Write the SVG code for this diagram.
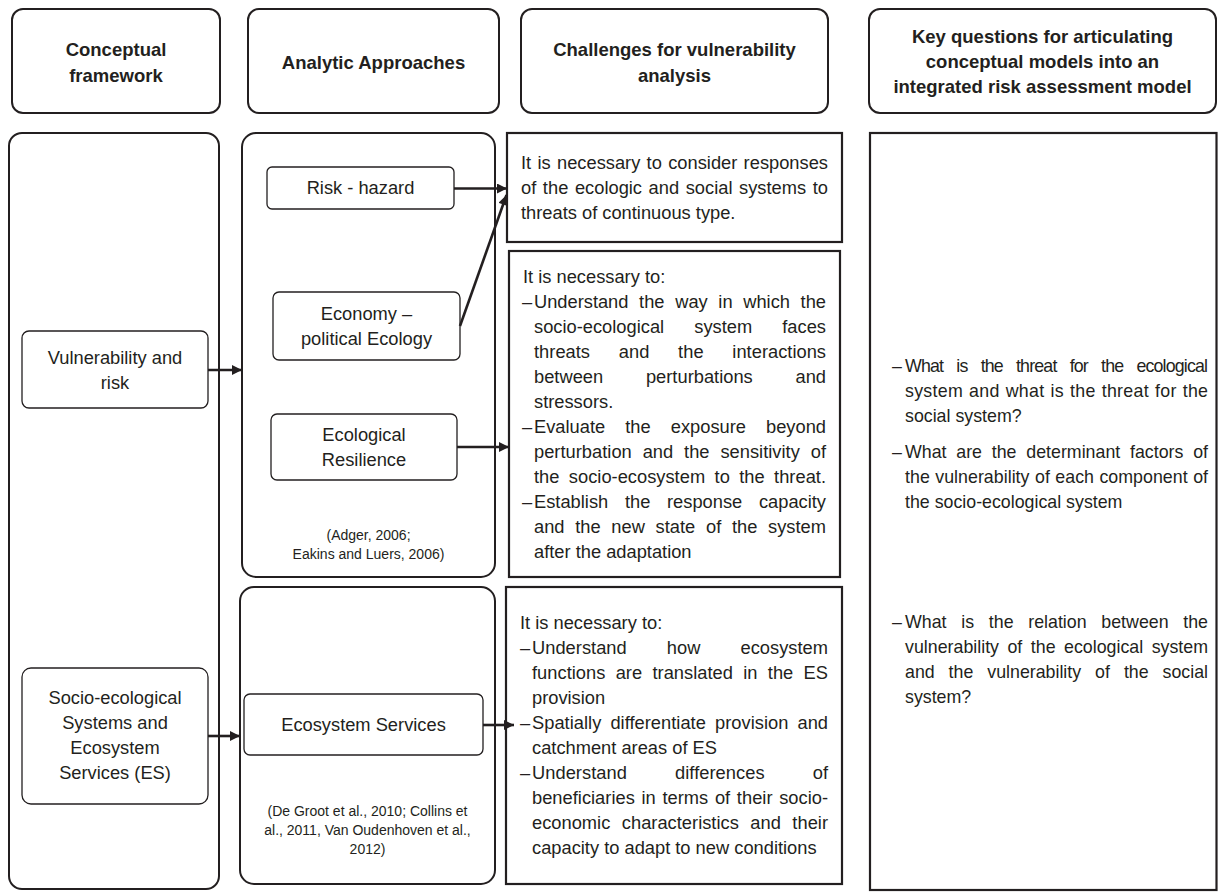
<svg xmlns="http://www.w3.org/2000/svg" width="1219" height="894" viewBox="0 0 1219 894">
<defs>
<style>
.hdr{fill:#fff;stroke:#231f20;stroke-width:2}
.big{fill:#fff;stroke:#231f20;stroke-width:2}
.lbl{fill:#fff;stroke:#231f20;stroke-width:1.3}
.tbox{fill:#fff;stroke:#231f20;stroke-width:2.2}
.h{font-family:"Liberation Sans",Arial,sans-serif;font-weight:bold;font-size:18.5px;fill:#231f20;text-anchor:middle}
.l{font-family:"Liberation Sans",Arial,sans-serif;font-size:18.3px;fill:#231f20;text-anchor:middle}
.c{font-family:"Liberation Sans",Arial,sans-serif;font-size:14px;fill:#231f20;text-anchor:middle}
.t{font-family:"Liberation Sans",Arial,sans-serif;font-size:18.3px;fill:#231f20}
.k{font-family:"Liberation Sans",Arial,sans-serif;font-size:17.8px;fill:#231f20}
.conn{fill:none;stroke:#231f20;stroke-width:2.6;marker-end:url(#ah)}
</style>
<marker id="ah" viewBox="0 0 10 10" refX="10" refY="5" markerWidth="11" markerHeight="10" markerUnits="userSpaceOnUse" orient="auto">
<path d="M0,0 L10,5 L0,10 z" fill="#231f20"/>
</marker>
</defs>
<rect width="1219" height="894" fill="#fff"/>

<g id="header-conceptual"><rect class="hdr" x="12" y="9" width="208" height="104" rx="11"/><text class="h" x="116" y="56">Conceptual</text><text class="h" x="116" y="82">framework</text></g>
<g id="header-analytic"><rect class="hdr" x="248" y="9" width="251" height="104" rx="11"/><text class="h" x="373.5" y="69">Analytic Approaches</text></g>
<g id="header-challenges"><rect class="hdr" x="521" y="9" width="307" height="104" rx="11"/><text class="h" x="674.5" y="56">Challenges for vulnerability</text><text class="h" x="674.5" y="82">analysis</text></g>
<g id="header-key"><rect class="hdr" x="869" y="9" width="347" height="104" rx="11"/><text class="h" x="1042.5" y="43">Key questions for articulating</text><text class="h" x="1042.5" y="68">conceptual models into an</text><text class="h" x="1042.5" y="93">integrated risk assessment model</text></g>

<g id="conceptual-column"><rect class="big" x="9" y="133" width="210" height="756" rx="13"/></g>
<g id="vulnerability-risk"><rect class="lbl" x="22" y="331" width="186" height="77" rx="7"/><text class="l" x="115" y="364">Vulnerability and</text><text class="l" x="115" y="389">risk</text></g>
<g id="socio-ecological"><rect class="lbl" x="22" y="668" width="186" height="136" rx="9"/><text class="l" x="115" y="704">Socio-ecological</text><text class="l" x="115" y="729">Systems and</text><text class="l" x="115" y="754">Ecosystem</text><text class="l" x="115" y="779">Services (ES)</text></g>

<g id="analytic-vulnerability"><rect class="big" x="242" y="133" width="253" height="444" rx="14"/>
<text class="c" x="368.5" y="540">(Adger, 2006;</text><text class="c" x="368.5" y="559">Eakins and Luers, 2006)</text></g>
<g id="risk-hazard"><rect class="lbl" x="267" y="167" width="187" height="42" rx="5"/><text class="l" x="360.5" y="194">Risk - hazard</text></g>
<g id="economy-political-ecology"><rect class="lbl" x="273" y="292" width="187" height="68" rx="6"/><text class="l" x="366.5" y="320">Economy –</text><text class="l" x="366.5" y="345">political Ecology</text></g>
<g id="ecological-resilience"><rect class="lbl" x="271" y="414" width="186" height="66" rx="6"/><text class="l" x="364" y="441">Ecological</text><text class="l" x="364" y="466">Resilience</text></g>

<g id="analytic-es"><rect class="big" x="240" y="587" width="255" height="297" rx="14"/>
<text class="c" x="367.5" y="816">(De Groot et al., 2010; Collins et</text><text class="c" x="367.5" y="835">al., 2011, Van Oudenhoven et al.,</text><text class="c" x="367.5" y="854">2012)</text></g>
<g id="ecosystem-services"><rect class="lbl" x="244" y="694" width="239" height="61" rx="6"/><text class="l" x="363.5" y="731">Ecosystem Services</text></g>

<g id="challenge-1"><rect class="tbox" x="507" y="133" width="335" height="109"/>
<text class="t" x="521" y="169" word-spacing="1.2" textLength="307" lengthAdjust="spacing">It is necessary to consider responses</text>
<text class="t" x="521" y="194" word-spacing="1.5" textLength="307" lengthAdjust="spacing">of the ecologic and social systems to</text>
<text class="t" x="521" y="219">threats of continuous type.</text></g>

<g id="challenge-2"><rect class="tbox" x="509" y="251" width="331" height="326"/>
<text class="t" x="523" y="283">It is necessary to:</text>
<text class="t" x="522" y="308">–</text><text class="t" x="534" y="308" word-spacing="5.6" textLength="292" lengthAdjust="spacing">Understand the way in which the</text>
<text class="t" x="534" y="333" word-spacing="25" textLength="292" lengthAdjust="spacing">socio-ecological system faces</text>
<text class="t" x="534" y="358" word-spacing="23.7" textLength="292" lengthAdjust="spacing">threats and the interactions</text>
<text class="t" x="534" y="383" word-spacing="37.7" textLength="292" lengthAdjust="spacing">between perturbations and</text>
<text class="t" x="534" y="408">stressors.</text>
<text class="t" x="522" y="433">–</text><text class="t" x="534" y="433" word-spacing="15" textLength="292" lengthAdjust="spacing">Evaluate the exposure beyond</text>
<text class="t" x="534" y="458" word-spacing="5.8" textLength="292" lengthAdjust="spacing">perturbation and the sensitivity of</text>
<text class="t" x="534" y="483" word-spacing="4.3" textLength="292" lengthAdjust="spacing">the socio-ecosystem to the threat.</text>
<text class="t" x="522" y="508">–</text><text class="t" x="534" y="508" word-spacing="11.6" textLength="292" lengthAdjust="spacing">Establish the response capacity</text>
<text class="t" x="534" y="533" word-spacing="5.6" textLength="292" lengthAdjust="spacing">and the new state of the system</text>
<text class="t" x="534" y="558">after the adaptation</text></g>

<g id="challenge-3"><rect class="tbox" x="506" y="587" width="336" height="297"/>
<text class="t" x="520" y="629">It is necessary to:</text>
<text class="t" x="520" y="654">–</text><text class="t" x="532" y="654" word-spacing="35" textLength="296" lengthAdjust="spacing">Understand how ecosystem</text>
<text class="t" x="532" y="679" word-spacing="5.2" textLength="296" lengthAdjust="spacing">functions are translated in the ES</text>
<text class="t" x="532" y="704">provision</text>
<text class="t" x="520" y="729">–</text><text class="t" x="532" y="729" word-spacing="4" textLength="296" lengthAdjust="spacing">Spatially differentiate provision and</text>
<text class="t" x="532" y="754">catchment areas of ES</text>
<text class="t" x="520" y="779">–</text><text class="t" x="532" y="779" word-spacing="43" textLength="296" lengthAdjust="spacing">Understand differences of</text>
<text class="t" x="532" y="804" word-spacing="1.6" textLength="296" lengthAdjust="spacing">beneficiaries in terms of their socio-</text>
<text class="t" x="532" y="829" word-spacing="6.4" textLength="296" lengthAdjust="spacing">economic characteristics and their</text>
<text class="t" x="532" y="854">capacity to adapt to new conditions</text></g>

<g id="key-questions"><rect class="tbox" x="870" y="133" width="346.5" height="757"/>
<text class="k" x="892" y="372">–</text><text class="k" x="905" y="372" word-spacing="9" textLength="303" lengthAdjust="spacing">What is the threat for the ecological</text>
<text class="k" x="905" y="397" word-spacing="0.9" textLength="303" lengthAdjust="spacing">system and what is the threat for the</text>
<text class="k" x="905" y="422">social system?</text>
<text class="k" x="892" y="458">–</text><text class="k" x="905" y="458" word-spacing="4.8" textLength="303" lengthAdjust="spacing">What are the determinant factors of</text>
<text class="k" x="905" y="483" word-spacing="0.5" textLength="303" lengthAdjust="spacing">the vulnerability of each component of</text>
<text class="k" x="905" y="508">the socio-ecological system</text>
<text class="k" x="892" y="628">–</text><text class="k" x="905" y="628" word-spacing="9.8" textLength="303" lengthAdjust="spacing">What is the relation between the</text>
<text class="k" x="905" y="653" word-spacing="3.5" textLength="303" lengthAdjust="spacing">vulnerability of the ecological system</text>
<text class="k" x="905" y="678" word-spacing="9" textLength="303" lengthAdjust="spacing">and the vulnerability of the social</text>
<text class="k" x="905" y="703">system?</text></g>

<g id="connectors">
<path class="conn" d="M208,370 H242"/>
<path class="conn" d="M208,736 H240"/>
<path class="conn" d="M454,188.5 H507"/>
<path class="conn" d="M460,326 L506.5,195"/>
<path class="conn" d="M457,447 H509"/>
<path class="conn" d="M483,725 H514"/>
</g>
</svg>
